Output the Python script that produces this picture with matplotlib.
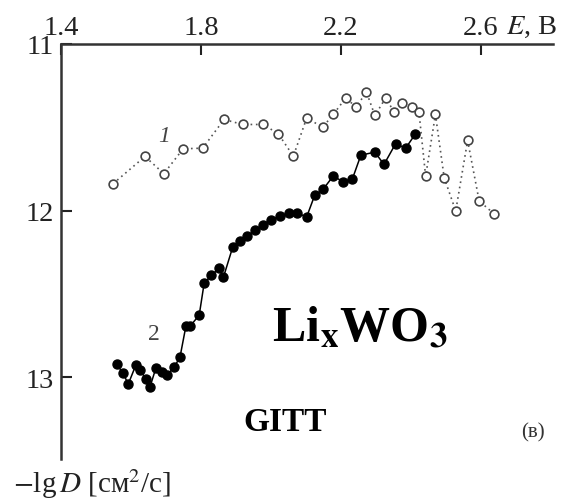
import numpy as np
import matplotlib
matplotlib.use('Agg')
import matplotlib.pyplot as plt

# curve 1 (open circles, dotted)
e1 = [1.549, 1.640, 1.694, 1.749, 1.805, 1.866, 1.919, 1.978, 2.021, 2.064,
      2.102, 2.148, 2.178, 2.214, 2.243, 2.273, 2.297, 2.328, 2.352, 2.375,
      2.402, 2.423, 2.442, 2.470, 2.495, 2.528, 2.562, 2.595, 2.637]
d1 = [11.838, 11.675, 11.778, 11.629, 11.625, 11.453, 11.483, 11.483, 11.539, 11.673,
      11.445, 11.499, 11.423, 11.323, 11.379, 11.289, 11.429, 11.323, 11.409, 11.355,
      11.379, 11.409, 11.794, 11.423, 11.802, 12.002, 11.579, 11.942, 12.018]

# curve 2 (filled dots, solid)
e2 = [1.559, 1.578, 1.592, 1.614, 1.626, 1.643, 1.654, 1.671, 1.688, 1.704,
      1.724, 1.740, 1.757, 1.769, 1.795, 1.809, 1.830, 1.852, 1.864, 1.891,
      1.911, 1.932, 1.954, 1.976, 1.999, 2.026, 2.052, 2.075, 2.102, 2.125,
      2.149, 2.178, 2.207, 2.233, 2.257, 2.297, 2.323, 2.356, 2.385, 2.413]
d2 = [12.922, 12.976, 13.042, 12.926, 12.956, 13.012, 13.060, 12.946, 12.970, 12.986,
      12.936, 12.880, 12.693, 12.693, 12.627, 12.437, 12.387, 12.347, 12.401, 12.217,
      12.184, 12.152, 12.118, 12.088, 12.054, 12.034, 12.014, 12.014, 12.038, 11.908,
      11.872, 11.792, 11.828, 11.808, 11.667, 11.649, 11.723, 11.599, 11.625, 11.539]

xticks = [1.4, 1.8, 2.2, 2.6]
xtick_labels = ['1.4', '1.8', '2.2', '2.6']
yticks = [11, 12, 13]
ytick_labels = ['11', '12', '13']

plt.rcParams['font.family'] = ['Liberation Serif', 'DejaVu Serif']
plt.rcParams['mathtext.fontset'] = 'stix'

fig = plt.figure(figsize=(5.72, 5.02), dpi=100)
ax = fig.add_axes([0.1066, 0.0837, 0.8602, 0.8267])

ax.plot(e1, d1, linestyle=(0, (1, 2.2)), color='#555555', linewidth=1.2,
    marker='o', markersize=6.3, markerfacecolor='white',
    markeredgecolor='#444444', markeredgewidth=1.2)
ax.plot(e2, d2, linestyle='-', color='black', linewidth=1.1,
    marker='o', markersize=6.5, markerfacecolor='black', markeredgecolor='black')

ax.set_xlim(1.4, 2.806)
ax.set_ylim(13.49, 11)

ax.spines['right'].set_visible(False)
ax.spines['bottom'].set_visible(False)
ax.spines['left'].set_linewidth(1.8)
ax.spines['top'].set_linewidth(1.8)
ax.spines['left'].set_color('#333333')
ax.spines['top'].set_color('#333333')

ax.xaxis.tick_top()
ax.set_xticks(xticks)
ax.set_xticklabels(xtick_labels)
ax.set_yticks(yticks)
ax.set_yticklabels(ytick_labels)
ax.tick_params(axis='both', direction='in', length=8, width=1.5,
    labelsize=20.5, colors='#222222', pad=3)
ax.tick_params(axis='y', pad=5)

# axis labels
fig.text(0.885, 0.946, '$E$, B', fontsize=20.5, color='#222222', ha='left', va='center')
fig.text(0.022, 0.036, '$-$lg$\\,D$ [см$^2$/с]', fontsize=21, color='#222222',
    ha='left', va='center')

# curve numbers
ax.text(1.695, 11.55, '1', fontsize=17, style='italic', color='#444444',
    ha='center', va='center')
ax.text(1.666, 12.74, '2', fontsize=17, color='#444444', ha='center', va='center')

# annotations
fig.text(0.475, 0.345, 'Li$_{\\mathbf{x}}$WO$_{\\mathbf{3}}$', fontsize=36,
    fontweight='bold', ha='left', va='center')
fig.text(0.425, 0.158, 'GITT', fontsize=24, fontweight='bold', ha='left', va='center')
fig.text(0.932, 0.137, '(в)', fontsize=15, color='#333333', ha='center', va='center')

plt.savefig('out.png', dpi=100)
